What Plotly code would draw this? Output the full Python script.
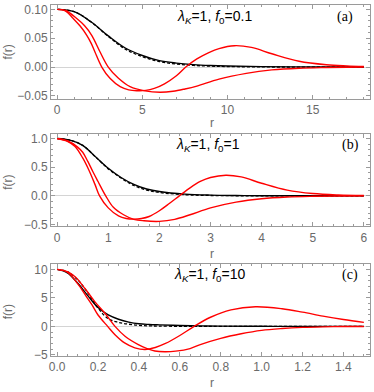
import plotly

# ---- panel (a): lambda_K = 1, f0 = 0.1 ----
r_a_black = [0, 1, 2, 3, 4, 5, 6, 7, 8, 9, 10, 12, 14, 16, 18]
f_a_solid = [0.1, 0.096, 0.078, 0.054, 0.033, 0.020, 0.011, 0.0068, 0.0042, 0.0027, 0.0018, 0.0008, 0.0003, 0.0001, 0.0]
f_a_dashed = [0.1, 0.096, 0.078, 0.053, 0.031, 0.018, 0.0095, 0.0052, 0.0028, 0.0015, 0.0008, 0.0002, 0.0, 0.0, 0.0]
r_a_red1 = [0, 0.5, 0.95, 1.35, 1.74, 2.0, 2.22, 2.62, 3.1, 3.7, 4.2, 4.67, 5.2, 5.7, 6.3, 7.0, 7.55,
            8.2, 8.9, 9.5, 10.4, 11.4, 12.6, 14.2, 15.8, 17.0, 18.0]
f_a_red1 = [0.1, 0.097, 0.084, 0.071, 0.055, 0.041, 0.026, 0.0, -0.0195, -0.034, -0.0395, -0.041, -0.0405, -0.037,
            -0.029, -0.015, 0.0, 0.014, 0.025, 0.032, 0.037, 0.034, 0.023, 0.010, 0.004, 0.002, 0.001]
r_a_red2 = [0, 0.5, 1.15, 1.6, 2.03, 2.52, 3.0, 3.6, 4.28, 5.16, 6.04, 6.8, 7.5, 8.2, 9.5, 11.1, 12.6, 14.2, 15.8, 17.0, 18.0]
f_a_red2 = [0.1, 0.098, 0.084, 0.072, 0.055, 0.026, 0.0, -0.0195, -0.034, -0.0414, -0.0437, -0.042, -0.038, -0.033,
            -0.021, -0.011, -0.005, -0.002, -0.0008, -0.0003, -0.0001]

# ---- panel (b): lambda_K = 1, f0 = 1 ----
r_b_black = [0, 0.25, 0.5, 0.75, 1.0, 1.25, 1.5, 1.75, 2.0, 2.5, 3.0, 3.5, 4.0, 5.0, 6.0]
f_b_solid = [1.0, 0.97, 0.88, 0.68, 0.48, 0.32, 0.20, 0.12, 0.075, 0.03, 0.012, 0.005, 0.002, 0.0003, 0.0]
f_b_dashed = [1.0, 0.97, 0.88, 0.68, 0.47, 0.31, 0.18, 0.10, 0.058, 0.02, 0.006, 0.002, 0.0005, 0.0, 0.0]
r_b_red1 = [0, 0.2, 0.35, 0.5, 0.62, 0.74, 0.83, 1.0, 1.2, 1.35, 1.5, 1.65, 1.8, 2.0, 2.2, 2.39, 2.6, 2.8, 3.0,
            3.3, 3.6, 4.0, 4.5, 5.0, 5.5, 6.0]
f_b_red1 = [1.0, 0.95, 0.86, 0.66, 0.45, 0.2, 0.0, -0.21, -0.35, -0.395, -0.405, -0.395, -0.36, -0.26, -0.13, 0.0,
            0.14, 0.25, 0.32, 0.36, 0.33, 0.22, 0.10, 0.04, 0.015, 0.005]
r_b_red2 = [0, 0.2, 0.4, 0.5, 0.6, 0.7, 0.8, 0.95, 1.1, 1.3, 1.5, 1.7, 2.0, 2.3, 2.6, 3.0, 3.5, 4.0, 4.5, 5.0, 5.5, 6.0]
f_b_red2 = [1.0, 0.96, 0.85, 0.76, 0.6, 0.42, 0.25, 0.0, -0.2, -0.33, -0.41, -0.435, -0.445, -0.41, -0.33,
            -0.21, -0.11, -0.05, -0.02, -0.008, -0.003, -0.001]

# ---- panel (c): lambda_K = 1, f0 = 10 ----
r_c_black = [0, 0.05, 0.1, 0.15, 0.2, 0.25, 0.3, 0.35, 0.4, 0.45, 0.5, 0.6, 0.7, 0.8, 1.0, 1.2, 1.5]
f_c_solid = [10, 9.4, 7.6, 5.4, 3.3, 2.0, 1.25, 0.75, 0.45, 0.33, 0.26, 0.15, 0.08, 0.04, 0.01, 0.003, 0.0]
f_c_dashed = [10, 9.6, 8.2, 5.9, 3.2, 1.35, 0.7, 0.38, 0.17, 0.09, 0.05, 0.015, 0.0, 0.0, 0.0, 0.0, 0.0]
r_c_red1 = [0, 0.05, 0.1, 0.14, 0.17, 0.2, 0.247, 0.283, 0.33, 0.38, 0.43, 0.48, 0.53, 0.6, 0.67, 0.75, 0.85,
            0.97, 1.1, 1.2, 1.3, 1.4, 1.5]
f_c_red1 = [10, 9.5, 7.5, 5.4, 3.8, 2.0, 0.0, -1.45, -2.9, -3.76, -4.05, -3.7, -3.0, -1.6, 0.0, 1.6, 2.9,
            3.45, 3.1, 2.5, 1.8, 1.2, 0.7]
r_c_red2 = [0, 0.05, 0.088, 0.136, 0.185, 0.234, 0.283, 0.332, 0.397, 0.44, 0.478, 0.527, 0.58, 0.65, 0.7, 0.8,
            0.9, 1.0, 1.1, 1.2, 1.3, 1.4, 1.5]
f_c_red2 = [10, 9.6, 8.7, 6.65, 4.3, 2.3, 0.0, -1.73, -3.2, -3.9, -4.33, -4.45, -4.35, -3.9, -3.2, -2.1,
            -1.3, -0.7, -0.38, -0.18, -0.08, -0.03, -0.01]

panel_titles = ["<i>λ</i><sub><i>K</i></sub>=1, <i>f</i><sub>0</sub>=0.1",
                "<i>λ</i><sub><i>K</i></sub>=1, <i>f</i><sub>0</sub>=1",
                "<i>λ</i><sub><i>K</i></sub>=1, <i>f</i><sub>0</sub>=10"]
panel_tags = ["(a)", "(b)", "(c)"]

FRAME = "#9a9a9a"
LABEL = "#6a6a6a"
SANS = "Liberation Sans"


def curves(r_black, f_solid, f_dashed, r_red1, f_red1, r_red2, f_red2, xa, ya):
    # black pair first, red on top
    out = []
    out.append(plotly.graph_objs.Scatter(x=r_black, y=f_solid, mode="lines", line_shape="spline",
                                         line=dict(color="black", width=1.4), xaxis=xa, yaxis=ya))
    out.append(plotly.graph_objs.Scatter(x=r_black, y=f_dashed, mode="lines", line_shape="spline",
                                         line=dict(color="black", width=1.3, dash="3px,2px"), xaxis=xa, yaxis=ya))
    out.append(plotly.graph_objs.Scatter(x=r_red1, y=f_red1, mode="lines", line_shape="spline",
                                         line=dict(color="#ff0000", width=1.4), xaxis=xa, yaxis=ya))
    out.append(plotly.graph_objs.Scatter(x=r_red2, y=f_red2, mode="lines", line_shape="spline",
                                         line=dict(color="#ff0000", width=1.4), xaxis=xa, yaxis=ya))
    return out


def frame_axis(rng, dtick, minor, fmt, domain, anchor, zero=False):
    return dict(range=rng, domain=domain, anchor=anchor, tickmode="linear", tick0=0, dtick=dtick,
                tickformat=fmt, ticks="inside", ticklen=4, tickwidth=1, tickcolor=FRAME,
                minor=dict(dtick=minor, tick0=0, ticks="inside", ticklen=2, tickwidth=1, tickcolor=FRAME),
                showline=True, linecolor=FRAME, linewidth=1, mirror="allticks",
                showgrid=False, zeroline=zero, zerolinecolor="#d4d4d4", zerolinewidth=1,
                tickfont=dict(family=SANS, size=12, color=LABEL))


def note(text, x, y, size, color, family=SANS, angle=0):
    # explicit anchors: "auto" would snap to left/right/top/bottom by paper thirds
    return dict(text=text, x=x, y=y, xref="paper", yref="paper", showarrow=False,
                xanchor="center", yanchor="middle", textangle=angle,
                font=dict(family=family, size=size, color=color))


def draw_figure():
    data = []
    data += curves(r_a_black, f_a_solid, f_a_dashed, r_a_red1, f_a_red1, r_a_red2, f_a_red2, "x", "y")
    data += curves(r_b_black, f_b_solid, f_b_dashed, r_b_red1, f_b_red1, r_b_red2, f_b_red2, "x2", "y2")
    data += curves(r_c_black, f_c_solid, f_c_dashed, r_c_red1, f_c_red1, r_c_red2, f_c_red2, "x3", "y3")

    dom_a = [0.732, 1.0]
    dom_b = [0.370, 0.632]
    dom_c = [0.0, 0.263]

    ann = []
    for y_f, y_r in [(0.867, 0.663), (0.496, 0.292), (0.127, -0.0765)]:
        ann.append(note("f(r)", -0.135, y_f, 12, LABEL, angle=-90))
        ann.append(note("r", 0.505, y_r, 12, LABEL))
    for txt, tag, xt, xg, yy in zip(panel_titles, panel_tags, [0.511, 0.492, 0.498],
                                    [0.922, 0.940, 0.937], [0.966, 0.601, 0.232]):
        ann.append(note(txt, xt, yy, 14, "black"))
        ann.append(note(tag, xg, yy, 14, "black", family="Liberation Serif"))

    layout = plotly.graph_objs.Layout(
        width=374, height=392, showlegend=False,
        margin=dict(l=51, r=4, t=3, b=36),
        paper_bgcolor="white", plot_bgcolor="white",
        xaxis=frame_axis([-0.36, 18.36], 5, 1, "d", [0, 1], "y"),
        yaxis=frame_axis([-0.0555, 0.1075], 0.05, 0.01, ".2f", dom_a, "x", zero=True),
        xaxis2=frame_axis([-0.12, 6.12], 1, 0.2, "d", [0, 1], "y2"),
        yaxis2=frame_axis([-0.528, 1.075], 0.5, 0.1, ".1f", dom_b, "x2", zero=True),
        xaxis3=frame_axis([-0.03, 1.53], 0.2, 0.05, ".1f", [0, 1], "y3"),
        yaxis3=frame_axis([-5.2, 11], 5, 1, "d", dom_c, "x3", zero=True),
        annotations=ann,
    )
    fig = plotly.graph_objs.Figure(data=data, layout=layout)
    # the page body has a default 8px margin, drop it so the figure sits at (0, 0)
    fig.write_html("out.html", config={"displayModeBar": False},
                   post_script="document.body.style.margin='0';")


if __name__ == "__main__":
    draw_figure()
